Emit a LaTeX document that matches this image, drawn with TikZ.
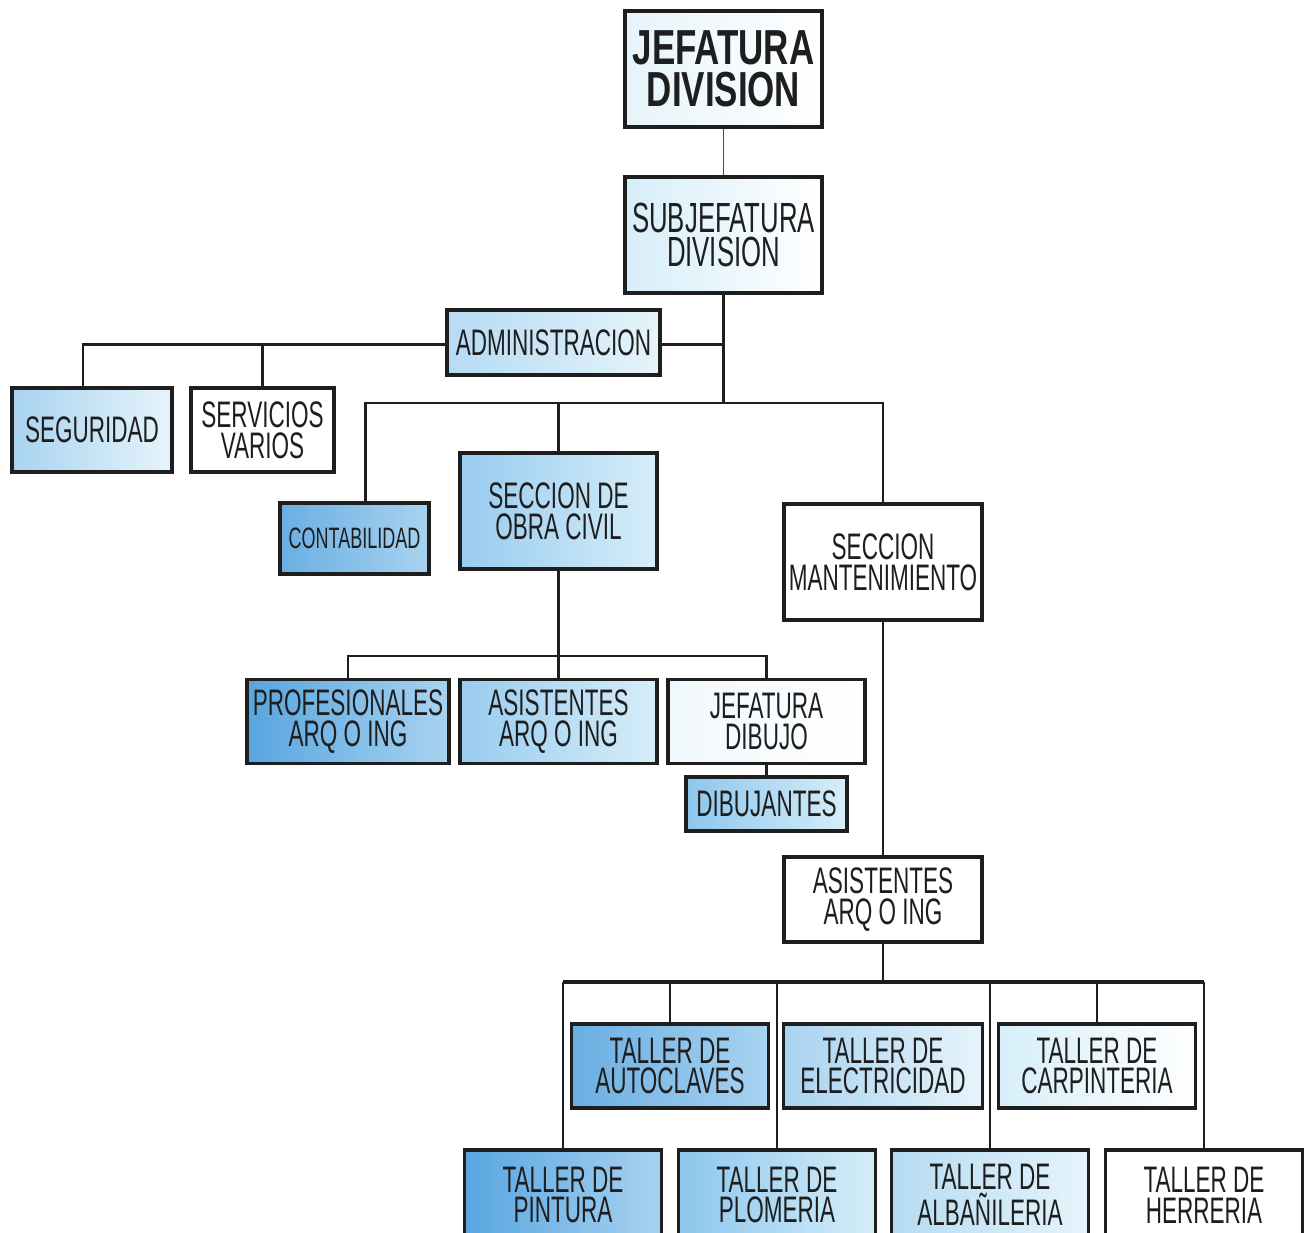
\documentclass[tikz,border=0pt]{standalone}
\usepackage{fontspec}
\setmainfont{Liberation Sans}[FakeStretch=0.61, BoldFeatures={FakeStretch=0.71}]
\usepackage{xcolor}
\usetikzlibrary{positioning}

\definecolor{inkline}{HTML}{1E1E1E}
\definecolor{blueA}{HTML}{58A5E0}
\definecolor{blueB}{HTML}{6AAEE2}
\definecolor{blueC}{HTML}{8CC6ED}
\definecolor{blueD}{HTML}{98CBEF}
\definecolor{blueE}{HTML}{A8D3F0}
\definecolor{blueF}{HTML}{B5DBF3}
\definecolor{blueG}{HTML}{D6EEF9}
\definecolor{blueH}{HTML}{E6F4FB}
\definecolor{blueI}{HTML}{F0F8FD}

\begin{document}
\begin{tikzpicture}[every node/.style={text=inkline}]

	\tikzset{
	orgblock/.style={draw=inkline, line width=1.1pt, align=center, inner sep=0pt,
		minimum width=1.97cm, minimum height=0.84cm, font=\fontsize{10.5}{8.8}\selectfont},
	tint/.style 2 args={left color=#1, right color=#2},
	link/.style={draw=inkline, line width=0.85pt},
	thinlink/.style={draw=inkline!80, line width=0.4pt},
	buslink/.style={draw=inkline, line width=1.1pt},
	droplink/.style={draw=inkline, line width=0.6pt}
	}

	\useasboundingbox (0,0) rectangle (13.04,-12.33);

	% Nodes
	\node[orgblock, tint={blueH}{white}, minimum height=1.16cm,
		font=\fontsize{14}{11.9}\selectfont\bfseries] (jefatura) at (7.235,-0.69) {JEFATURA\\DIVISION};
	\node[orgblock, tint={blueG}{white}, minimum height=1.16cm,
		font=\fontsize{12}{9.9}\selectfont, node distance=1.66cm, below of=jefatura] (subjefatura) {SUBJEFATURA\\DIVISION};

	\node[orgblock, tint={blueF}{blueH}, minimum width=2.13cm, minimum height=0.65cm,
		node distance=1.075cm, below of=subjefatura, xshift=-1.70cm] (admin) {ADMINISTRACION};
	\node[orgblock, tint={blueE}{blueH}, minimum width=1.60cm,
		node distance=0.875cm, below of=admin, xshift=-4.615cm] (seguridad) {SEGURIDAD};
	\node[orgblock, fill=white, minimum width=1.43cm,
		node distance=1.705cm, right of=seguridad] (servicios) {SERVICIOS\\VARIOS};

	\node[orgblock, tint={blueD}{blueG}, minimum height=1.16cm,
		node distance=2.76cm, below of=subjefatura, xshift=-1.65cm] (obracivil) {SECCION DE\\OBRA CIVIL};
	\node[orgblock, tint={blueB}{blueE}, minimum width=1.49cm, minimum height=0.71cm,
		font=\fontsize{8.4}{8}\selectfont, node distance=2.04cm, left of=obracivil, yshift=-0.275cm] (contabilidad) {CONTABILIDAD};
	\node[orgblock, fill=white, minimum width=1.98cm, minimum height=1.16cm,
		node distance=3.245cm, right of=obracivil, yshift=-0.51cm] (mantenimiento) {SECCION\\MANTENIMIENTO};

	\node[orgblock, tint={blueD}{blueG}, node distance=2.105cm, below of=obracivil] (asisobra) {ASISTENTES\\ARQ O ING};
	\node[orgblock, tint={blueA}{blueE}, minimum width=2.02cm,
		node distance=2.105cm, left of=asisobra] (profesionales) {PROFESIONALES\\ARQ O ING};
	\node[orgblock, tint={blueI}{white}, node distance=2.08cm, right of=asisobra] (jefdibujo) {JEFATURA\\DIBUJO};
	\node[orgblock, tint={blueC}{blueG}, minimum width=1.61cm, minimum height=0.54cm,
		node distance=0.825cm, below of=jefdibujo] (dibujantes) {DIBUJANTES};

	\node[orgblock, fill=white, minimum width=1.98cm, minimum height=0.85cm,
		node distance=3.375cm, below of=mantenimiento] (asismant) {ASISTENTES\\ARQ O ING};

	\node[orgblock, tint={blueE}{blueH}, minimum width=1.99cm,
		node distance=1.665cm, below of=asismant] (electricidad) {TALLER DE\\ELECTRICIDAD};
	\node[orgblock, tint={blueB}{blueE}, node distance=2.13cm, left of=electricidad] (autoclaves) {TALLER DE\\AUTOCLAVES};
	\node[orgblock, tint={blueG}{white}, node distance=2.14cm, right of=electricidad] (carpinteria) {TALLER DE\\CARPINTERIA};

	\node[orgblock, tint={blueA}{blueE}, minimum height=0.9cm,
		node distance=1.29cm, below of=autoclaves, xshift=-1.07cm] (pintura) {TALLER DE\\PINTURA};
	\node[orgblock, tint={blueC}{blueG}, minimum height=0.9cm,
		node distance=2.14cm, right of=pintura] (plomeria) {TALLER DE\\PLOMERIA};
	\node[orgblock, tint={blueF}{blueH}, minimum height=0.9cm,
		node distance=2.13cm, right of=plomeria] (albanileria) {TALLER DE\\ALBAÑILERIA};
	\node[orgblock, fill=white, minimum height=0.9cm,
		node distance=2.14cm, right of=albanileria] (herreria) {TALLER DE\\HERRERIA};

	% bus points
	\coordinate[node distance=1.095cm, below of=subjefatura] (busadmin);
	\coordinate[node distance=1.68cm, below of=subjefatura] (busmid);
	\coordinate[node distance=1.45cm, below of=obracivil] (buslow);
	\coordinate[node distance=0.825cm, below of=asismant] (bustaller);

	% Lines
	\draw[thinlink] (jefatura) -- (subjefatura);
	\draw[link] (subjefatura) -- (busmid);
	\draw[link] (admin.east |- busadmin) -- (busadmin);
	\draw[link] (admin.west |- busadmin) -| ([xshift=-0.09cm]seguridad.north);
	\draw[link] (servicios) -- (servicios |- busadmin);

	\draw[link] (busmid) -| ([xshift=0.11cm]contabilidad.north);
	\draw[link] (busmid) -| (mantenimiento);
	\draw[link] (obracivil) -- (obracivil |- busmid);

	\draw[link] (obracivil) -- (buslow);
	\draw[link] (profesionales) |- (buslow) -| (jefdibujo);
	\draw[link] (buslow) -- (asisobra);
	\draw[link] (jefdibujo) -- (dibujantes);

	\draw[link] (mantenimiento) -- (asismant);
	\draw[link] (asismant) -- (bustaller);
	\draw[buslink] (pintura.north |- bustaller) -- (herreria.north |- bustaller);
	\foreach \t in {pintura,autoclaves,plomeria,albanileria,carpinteria,herreria}
		\draw[droplink] (\t.north |- bustaller) -- (\t);

\end{tikzpicture}
\end{document}
